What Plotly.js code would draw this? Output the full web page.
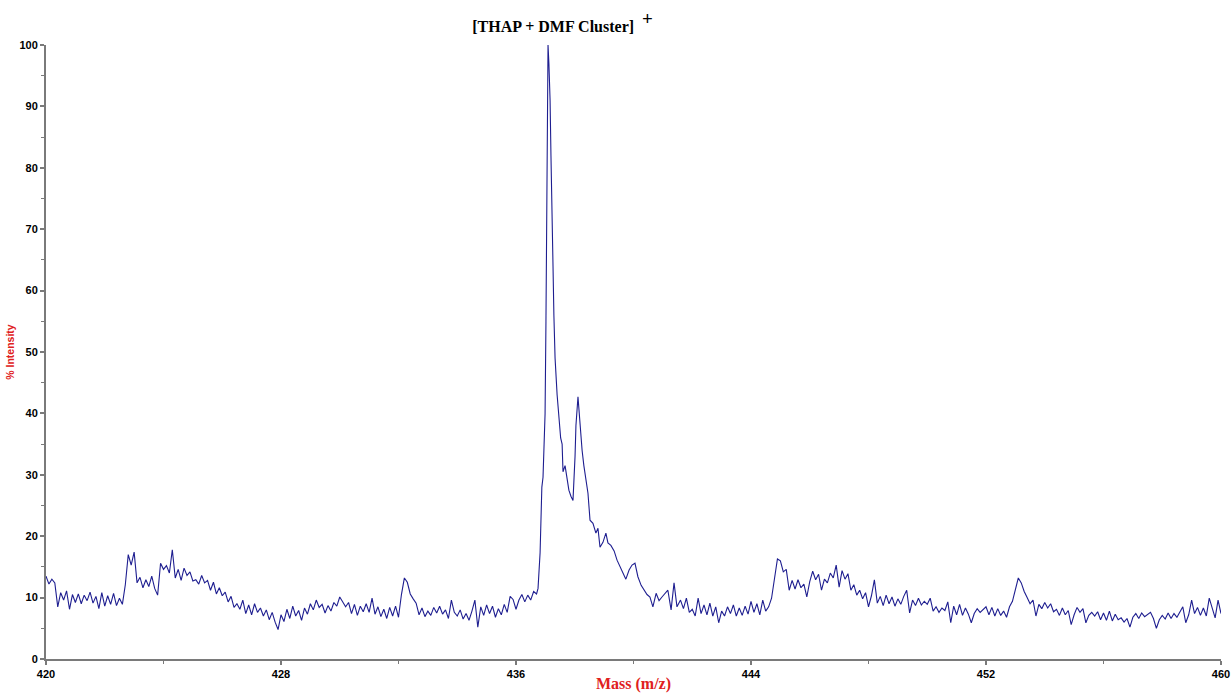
<!DOCTYPE html>
<html>
<head>
<meta charset="utf-8">
<script src="https://cdn.plot.ly/plotly-3.0.1.min.js"></script>
<style>
html,body{margin:0;padding:0;background:#ffffff;}
#chart{width:1231px;height:693px;}
</style>
</head>
<body>
<div id="chart"></div>
<script>
// m/z values (x)
const massLow = [
420.0,420.1,420.2,420.3,420.4,420.5,420.6,420.7,420.8,420.9,
421.0,421.1,421.2,421.3,421.4,421.5,421.6,421.7,421.8,421.9,
422.0,422.1,422.2,422.3,422.4,422.5,422.6,422.7,422.8,422.9,
423.0,423.1,423.2,423.3,423.4,423.5,423.6,423.7,423.8,423.9,
424.0,424.1,424.2,424.3,424.4,424.5,424.6,424.7,424.8,424.9,
425.0,425.1,425.2,425.3,425.4,425.5,425.6,425.7,425.8,425.9,
426.0,426.1,426.2,426.3,426.4,426.5,426.6,426.7,426.8,426.9,
427.0,427.1,427.2,427.3,427.4,427.5,427.6,427.7,427.8,427.9,
428.0,428.1,428.2,428.3,428.4,428.5,428.6,428.7,428.8,428.9,
429.0,429.1,429.2,429.3,429.4,429.5,429.6,429.7,429.8,429.9,
430.0,430.1,430.2,430.3,430.4,430.5,430.6,430.7,430.8,430.9,
431.0,431.1,431.2,431.3,431.4,431.5,431.6,431.7,431.8,431.9,
432.0,432.1,432.2,432.3,432.4,432.5,432.6,432.7,432.8,432.9,
433.0,433.1,433.2,433.3,433.4,433.5,433.6,433.7,433.8,433.9,
434.0,434.1,434.2,434.3,434.4,434.5,434.6,434.7,434.8,434.9,
435.0,435.1,435.2,435.3,435.4,435.5,435.6,435.7,435.8,435.9,
436.0,436.1,436.2,436.3,436.4,436.5,436.6
];
const intensityLow = [
13.5,12.2,13.0,12.4,8.5,10.8,9.6,11.1,8.1,10.5,
9.2,10.6,9.0,10.4,9.5,10.9,9.1,10.2,8.2,10.8,
8.6,10.3,8.9,10.7,8.7,9.9,8.9,12.1,17.0,15.3,
17.4,12.4,13.3,11.6,12.9,11.8,13.5,11.5,10.4,15.6,
14.6,15.2,14.0,17.8,13.2,14.6,12.8,14.8,13.6,14.2,
12.7,12.9,12.2,13.6,12.4,12.8,11.2,12.5,10.6,11.6,
10.3,10.9,9.3,10.2,8.4,9.0,8.1,9.6,7.4,8.8,
7.2,9.0,7.6,8.3,7.0,8.0,6.4,7.6,6.0,4.8,
7.2,6.1,8.1,6.6,8.6,7.0,7.9,6.3,8.3,7.3,
9.0,8.0,9.6,8.4,8.9,7.5,8.7,7.8,9.2,8.6,
10.1,9.3,8.5,9.2,7.4,8.9,7.1,8.6,7.7,9.0,
7.6,9.9,7.3,8.5,6.9,8.1,6.6,8.4,7.0,8.6,
6.8,10.5,13.2,12.5,10.6,9.8,9.1,7.2,8.3,6.9,
7.8,7.1,8.4,7.5,8.6,7.3,8.0,6.6,9.6,7.6,
7.0,8.0,6.5,7.4,6.3,7.8,9.6,5.2,8.5,7.1,
8.8,7.4,8.6,6.8,8.2,7.2,8.9,7.6,10.2,9.7,
8.1,9.6,10.5,9.3,10.4,9.6,11.0
];
const massPeak = [
436.70,436.75,436.82,436.85,436.88,436.92,436.95,436.99,437.02,437.06,
437.09,437.12,437.16,437.19,437.22,437.26,437.29,437.33,437.40,437.46,
437.52,437.57,437.60,437.67,437.74,437.80,437.87,437.94,438.01,438.04,
438.11,438.18,438.25,438.31,438.38,438.45,438.52,438.62,438.72,438.79,
438.86,438.96,439.06,439.13,439.23,439.34,439.44,439.54,439.64,439.74,
439.85,439.95,440.05,440.15,440.26,440.36,440.46,440.56,440.66,440.77,
440.87,440.97,441.07,441.17,441.28,441.38,441.48
];
const intensityPeak = [
10.6,11.5,17.3,25.0,28.0,29.6,34.0,40.0,55.0,76.0,
100.0,97.0,91.0,82.0,71.0,64.0,56.0,49.0,43.0,39.5,
36.0,35.0,30.5,31.5,29.0,27.5,26.5,25.8,33.0,38.0,
42.7,37.5,34.0,31.5,29.0,27.0,22.6,22.1,20.5,21.3,
18.2,19.0,20.5,18.9,18.5,17.6,16.1,15.0,14.0,13.0,
14.5,15.3,15.6,13.4,12.0,11.2,10.5,10.1,8.5,10.7,
9.5,10.1,10.6,11.2,8.0,12.4,8.5
];
const massHigh = [
441.6,441.7,441.8,441.9,
442.0,442.1,442.2,442.3,442.4,442.5,442.6,442.7,442.8,442.9,
443.0,443.1,443.2,443.3,443.4,443.5,443.6,443.7,443.8,443.9,
444.0,444.1,444.2,444.3,444.4,444.5,444.6,444.7,444.8,444.9,
445.0,445.1,445.2,445.3,445.4,445.5,445.6,445.7,445.8,445.9,
446.0,446.1,446.2,446.3,446.4,446.5,446.6,446.7,446.8,446.9,
447.0,447.1,447.2,447.3,447.4,447.5,447.6,447.7,447.8,447.9,
448.0,448.1,448.2,448.3,448.4,448.5,448.6,448.7,448.8,448.9,
449.0,449.1,449.2,449.3,449.4,449.5,449.6,449.7,449.8,449.9,
450.0,450.1,450.2,450.3,450.4,450.5,450.6,450.7,450.8,450.9,
451.0,451.1,451.2,451.3,451.4,451.5,451.6,451.7,451.8,451.9,
452.0,452.1,452.2,452.3,452.4,452.5,452.6,452.7,452.8,452.9,
453.0,453.1,453.2,453.3,453.4,453.5,453.6,453.7,453.8,453.9,
454.0,454.1,454.2,454.3,454.4,454.5,454.6,454.7,454.8,454.9,
455.0,455.1,455.2,455.3,455.4,455.5,455.6,455.7,455.8,455.9,
456.0,456.1,456.2,456.3,456.4,456.5,456.6,456.7,456.8,456.9,
457.0,457.1,457.2,457.3,457.4,457.5,457.6,457.7,457.8,457.9,
458.0,458.1,458.2,458.3,458.4,458.5,458.6,458.7,458.8,458.9,
459.0,459.1,459.2,459.3,459.4,459.5,459.6,459.7,459.8,459.9,
460.0
];
const intensityHigh = [
9.6,8.2,9.9,7.6,
8.1,7.0,9.9,7.4,8.8,7.2,9.1,7.0,8.5,5.9,
7.8,7.0,8.5,7.4,8.8,7.0,8.3,7.1,8.6,7.3,
9.4,7.6,9.0,7.2,9.6,7.8,8.5,9.9,13.5,16.3,
16.0,14.2,14.6,11.2,12.8,11.4,12.9,11.6,12.2,10.1,
12.6,14.3,12.9,13.8,11.2,13.0,12.4,14.0,13.2,15.3,
11.7,14.4,13.0,13.9,11.2,12.1,10.4,11.2,9.8,10.8,
8.5,10.3,12.9,9.1,10.2,8.7,10.4,9.0,10.1,8.6,
9.8,8.9,10.2,11.2,7.5,9.6,8.7,9.9,8.8,9.4,
8.9,9.9,7.8,8.5,7.6,8.3,7.9,9.3,5.9,8.6,
7.2,8.9,7.1,8.3,7.3,5.9,7.4,8.2,7.6,8.1,
8.5,7.2,8.4,7.0,8.2,7.1,7.8,6.8,8.5,9.4,
11.4,13.2,12.4,11.0,10.0,9.0,9.6,7.0,8.9,8.2,
9.2,8.3,9.0,7.7,8.1,7.1,8.3,7.2,7.9,5.6,
7.2,8.4,7.6,8.2,5.9,7.1,7.6,7.0,7.7,6.4,
7.5,6.3,7.8,6.2,7.3,6.4,6.7,6.0,6.6,5.2,
6.8,7.4,6.6,7.5,6.9,7.3,7.6,6.6,5.0,6.4,
7.1,6.5,7.5,6.6,7.4,6.8,7.6,8.5,5.9,7.2,
9.6,7.4,8.4,7.1,8.3,7.0,9.9,8.2,6.7,9.6,
7.4
];
const xTickVals = [420, 428, 436, 444, 452, 460];
const yTickVals = [0, 10, 20, 30, 40, 50, 60, 70, 80, 90, 100];

const mass = massLow.concat(massPeak, massHigh);
const intensity = intensityLow.concat(intensityPeak, intensityHigh);

const trace = {
  x: mass,
  y: intensity,
  type: 'scatter',
  mode: 'lines',
  line: {color: '#1e1e90', width: 1.1},
  hoverinfo: 'x+y'
};

const tickFont = {family: '"Liberation Sans Narrow", "Arial Narrow", "Liberation Sans", Arial, sans-serif', size: 11, color: '#000000', weight: 700};
const axisGrey = '#7a7a7a';

const layout = {
  width: 1231,
  height: 693,
  paper_bgcolor: '#ffffff',
  plot_bgcolor: '#ffffff',
  margin: {l: 46, r: 10, t: 45, b: 34, pad: 0},
  showlegend: false,
  title: {
    text: '<b>[THAP + DMF Cluster]  <sup><span style="font-size:19px">+</span></sup></b>',
    font: {family: '"Liberation Serif", "Times New Roman", serif', size: 16, color: '#000000'},
    x: 0.457, xref: 'container', xanchor: 'center',
    y: 0.962, yref: 'container', yanchor: 'middle'
  },
  xaxis: {
    range: [420, 460],
    tickmode: 'array',
    tickvals: xTickVals,
    ticktext: xTickVals.map(String),
    ticks: 'outside', ticklen: 4, tickwidth: 1.5, tickcolor: axisGrey,
    minor: {dtick: 4, tick0: 420, ticks: 'outside', ticklen: 3, tickwidth: 1, tickcolor: axisGrey, showgrid: false},
    showline: true, linecolor: axisGrey, linewidth: 2,
    showgrid: false, zeroline: false,
    tickfont: tickFont,
    automargin: false,
    title: {
      text: '<b>Mass (m/z)</b>',
      font: {family: '"Liberation Serif", "Times New Roman", serif', size: 16, color: '#e02020'},
      standoff: 4
    }
  },
  yaxis: {
    range: [0, 100],
    tickmode: 'array',
    tickvals: yTickVals,
    ticktext: yTickVals.map(String),
    ticks: 'outside', ticklen: 4, tickwidth: 1.5, tickcolor: axisGrey,
    minor: {dtick: 5, tick0: 0, ticks: 'outside', ticklen: 3, tickwidth: 1, tickcolor: axisGrey, showgrid: false},
    showline: true, linecolor: axisGrey, linewidth: 2,
    showgrid: false, zeroline: false,
    tickfont: tickFont,
    automargin: false,
    title: {
      text: '<b>% Intensity</b>',
      font: {family: '"Liberation Sans", Arial, sans-serif', size: 10.5, color: '#e02020'},
      standoff: 3
    }
  }
};

Plotly.newPlot('chart', [trace], layout, {displayModeBar: false, staticPlot: false});
</script>
</body>
</html>
